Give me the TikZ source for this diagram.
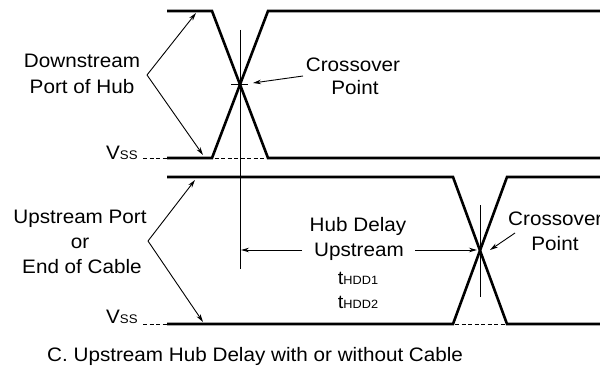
\documentclass[tikz,border=0pt]{standalone}
\usepackage{fontspec}
\setmainfont{Liberation Sans}[FakeStretch=1.06]
\usetikzlibrary{arrows.meta}
\newcommand{\mainsz}{\fontsize{19.5}{24}\selectfont}
\newcommand{\subsz}{\fontsize{12.5}{14}\selectfont}
\newcommand{\tsub}{\fontsize{12}{14}\selectfont}
\newcommand{\tbig}{\fontsize{19}{22}\selectfont}
\tikzset{
  wave/.style={line width=2.6pt, line join=miter},
  thin line/.style={line width=0.9pt},
  dash line/.style={line width=0.9pt, dash pattern=on 4pt off 2.5pt},
  ptr/.style={line width=0.9pt, -{Stealth[length=8pt,width=4.5pt]}},
  lbl/.style={font=\mainsz, inner sep=0pt, anchor=base},
  lblw/.style={font=\mainsz, inner sep=0pt, anchor=base west},
}
\begin{document}
\begin{tikzpicture}[x=1pt,y=-1pt]
\useasboundingbox (0,0) rectangle (600,369);
% ---------- upper graph ----------
\draw[dash line] (143,158) -- (600,158);
\draw[wave] (167,11) -- (212,11) -- (268,158) -- (600,158);
\draw[wave] (167,158) -- (212,158) -- (268,11) -- (600,11);
\coordinate (v1top) at (240,30);
\coordinate (v1bot) at (240,269);
\draw[thin line] (v1top) -- (v1bot);
\coordinate (tickL) at (231,84);
\coordinate (tickR) at (248,84);
\draw[thin line] (tickL) -- (tickR);
% labels
\node[lbl] (ds1) at (82,67) {Downstream};
\node[lbl] (ds2) at (82,93) {Port of Hub};
\coordinate (dsO) at (147,75);
\coordinate (dsHi) at (196,13);
\coordinate (dsLo) at (203,155);
\draw[ptr] (dsO) -- (dsHi);
\draw[ptr] (dsO) -- (dsLo);
\node[lblw] (vss1) at (106,159) {V{\subsz SS}};
\node[lbl] (co1a) at (353,71) {Crossover};
\node[lbl] (co1b) at (355,95) {Point};
\coordinate (co1t) at (303,76);
\coordinate (co1h) at (253,83);
\draw[ptr] (co1t) -- (co1h);
% ---------- lower graph ----------
\draw[dash line] (143,324) -- (600,324);
\draw[wave] (167,177) -- (453,177) -- (507,324) -- (600,324);
\draw[wave] (167,324) -- (453,324) -- (507,177) -- (600,177);
\coordinate (v2top) at (480,205);
\coordinate (v2bot) at (480,297);
\draw[thin line] (v2top) -- (v2bot);
\node[lbl] (us1) at (80,223) {Upstream Port};
\node[lbl] (us2) at (80,248) {or};
\node[lbl] (us3) at (82,273) {End of Cable};
\coordinate (usO) at (148,241);
\coordinate (usHi) at (195,180);
\coordinate (usLo) at (203,322);
\draw[ptr] (usO) -- (usHi);
\draw[ptr] (usO) -- (usLo);
\node[lblw] (vss2) at (106,323) {V{\subsz SS}};
\node[lbl] (hd1) at (358,231) {Hub Delay};
\node[lbl] (hd2) at (359,256) {Upstream};
\node[lbl] (hd3) at (358,284) {{\tbig t}{\tsub HDD1}};
\node[lbl] (hd4) at (358,308) {{\tbig t}{\tsub HDD2}};
\coordinate (hdL) at (302,250);
\coordinate (hdR) at (415,250);
\coordinate (hdLt) at (241,250);
\coordinate (hdRt) at (477,250);
\draw[ptr] (hdL) -- (hdLt);
\draw[ptr] (hdR) -- (hdRt);
\node[lblw] (co2a) at (508,225) {Crossover};
\node[lbl] (co2b) at (555,250) {Point};
\coordinate (co2t) at (515,233);
\coordinate (co2h) at (490,250);
\draw[ptr] (co2t) -- (co2h);
% caption
\node[lblw] (cap) at (47,361) {C. Upstream Hub Delay with or without Cable};
\end{tikzpicture}
\end{document}
